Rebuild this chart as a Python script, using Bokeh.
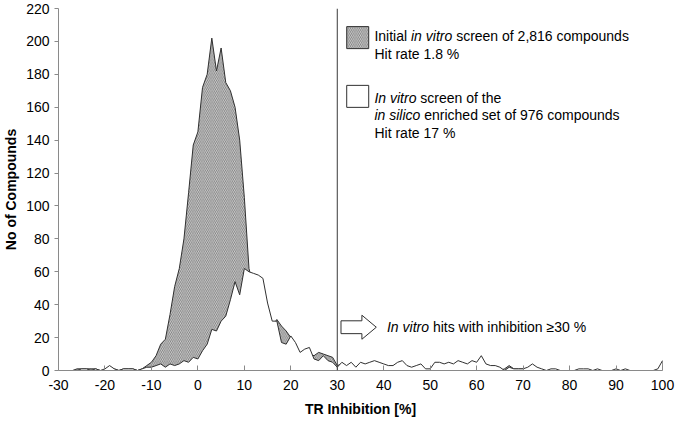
from bokeh.plotting import figure
from bokeh.models import Span, FixedTicker, ColumnDataSource
from bokeh.core.properties import value
from bokeh.embed import file_html
from bokeh.resources import INLINE

# ---------------- data ----------------
tr_inhibition = list(range(-27, 101))

initial_screen = [
    0, 1, 1, 1, 1, 1, 0, 0, 1, 1,          # -27 .. -18
    0, 1, 1, 1, 0, 1, 3, 5, 9, 16,         # -17 .. -8
    19, 34, 51, 62, 80, 108, 137, 145, 172, 180,   # -7 .. 2
    202, 182, 196, 175, 170, 160, 140, 105, 62, 50,  # 3 .. 12
    45, 40, 35, 27, 31, 27, 24, 20, 15, 10,  # 13 .. 22
    12, 10, 9, 11, 10, 9, 8, 3, 4, 2,        # 23 .. 32
    2, 1, 2, 2, 2, 2, 1, 1, 1, 1,            # 33 .. 42
    1, 1, 1, 1, 1, 1, 0, 0, 1, 1,            # 43 .. 52
    1, 1, 1, 1, 1, 1, 1, 1, 1, 1,            # 53 .. 62
    1, 0, 0, 1, 3, 1, 1, 1, 1, 1,            # 63 .. 72
    0, 0, 0, 0, 0, 0, 0, 0, 0, 0,            # 73 .. 82
    0, 0, 0, 0, 0, 0, 0, 0, 0, 0,            # 83 .. 92
    0, 0, 0, 0, 0, 0, 0, 1,                  # 93 .. 100
]

enriched_screen = [
    0, 0, 1, 1, 0, 1, 0, 1, 3, 1,            # -27 .. -18
    0, 1, 1, 1, 0, 1, 2, 2, 3, 4,            # -17 .. -8
    2, 4, 3, 4, 6, 5, 8, 7, 12, 16,          # -7 .. 2
    25, 24, 30, 33, 43, 54, 46, 62, 60, 59,  # 3 .. 12
    58, 56, 41, 30, 30, 17, 16, 21, 17, 11,  # 13 .. 22
    13, 14, 7, 6, 9, 6, 5, 2, 5, 3,          # 23 .. 32
    5, 2, 5, 4, 5, 6, 5, 4, 3, 3,            # 33 .. 42
    5, 6, 3, 2, 3, 4, 1, 1, 5, 5,            # 43 .. 52
    4, 5, 4, 6, 5, 4, 6, 5, 9, 4,            # 53 .. 62
    3, 3, 2, 0, 2, 1, 1, 1, 2, 4,            # 63 .. 72
    2, 1, 0, 1, 1, 0, 0, 0, 0, 1,            # 73 .. 82
    1, 1, 0, 1, 0, 0, 0, 1, 0, 1,            # 83 .. 92
    0, 0, 0, 0, 0, 0, 1, 6,                  # 93 .. 100
]

x_ticks = list(range(-30, 101, 10))
y_ticks = list(range(0, 221, 20))
hit_threshold = 30

# rich-text lines: lists of (words, style); a space is placed between runs
legend_initial = [[("Initial", "normal"), ("in vitro", "italic"), ("screen of 2,816 compounds", "normal")],
                  [("Hit rate 1.8 %", "normal")]]
legend_enriched = [[("In vitro", "italic"), ("screen of the", "normal")],
                   [("in silico", "italic"), ("enriched set of 976 compounds", "normal")],
                   [("Hit rate 17 %", "normal")]]
hits_note = [("In vitro", "italic"), ("hits with inhibition \u226530 %", "normal")]

# ---------------- figure ----------------
FONT = "Liberation Sans"
FS = 14

p = figure(width=676, height=419, x_range=(-30, 100), y_range=(0, 220),
           output_backend="svg", toolbar_location=None,
           min_border_top=8, min_border_right=14, min_border_left=4, min_border_bottom=2)
p.grid.visible = False
p.outline_line_color = None
p.background_fill_color = "white"

src = ColumnDataSource(dict(x=tr_inhibition, a=initial_screen, b=enriched_screen))

HATCH = dict(fill_color="#d4d4d4", hatch_pattern="\\", hatch_color="#4a4a4a",
             hatch_scale=3.6, hatch_weight=0.6)

p.varea(x="x", y1=0, y2="a", source=src, **HATCH)
p.line(x="x", y="a", source=src, line_color="#303030", line_width=1)
p.varea(x="x", y1=0, y2="b", source=src, fill_color="white")
p.line(x="x", y="b", source=src, line_color="#303030", line_width=1)
p.segment(x0=[tr_inhibition[-1]], y0=[0], x1=[tr_inhibition[-1]], y1=[enriched_screen[-1]],
          line_color="#303030", line_width=1)

p.add_layout(Span(location=hit_threshold, dimension="height", line_color="#3a3a3a", line_width=1))

# axes
for ax in (p.xaxis, p.yaxis):
    ax.axis_line_color = "#8a8a8a"
    ax.major_tick_line_color = "#8a8a8a"
    ax.minor_tick_line_color = None
    ax.major_label_text_font = FONT
    ax.major_label_text_font_size = f"{FS}px"
    ax.major_label_text_color = "black"
    ax.axis_label_text_font = FONT
    ax.axis_label_text_font_size = f"{FS}px"
    ax.axis_label_text_font_style = "bold"
    ax.axis_label_text_color = "black"

p.xaxis.ticker = FixedTicker(ticks=x_ticks)
p.yaxis.ticker = FixedTicker(ticks=y_ticks)
p.xaxis.major_label_overrides = {t: str(t) for t in x_ticks}
p.yaxis.major_label_overrides = {t: str(t) for t in y_ticks}
p.xaxis.major_tick_in = 5
p.xaxis.major_tick_out = 0
p.yaxis.major_tick_in = 0
p.yaxis.major_tick_out = 4
p.xaxis.major_label_standoff = 9
p.yaxis.major_label_standoff = 5
p.xaxis.axis_label = "TR Inhibition [%]"
p.yaxis.axis_label = "No of Compounds"
p.xaxis.axis_label_standoff = 8
p.yaxis.axis_label_standoff = 4

# ---------------- rich-text helper ----------------
W = {' ': 278, 'a': 556, 'b': 556, 'c': 500, 'd': 556, 'e': 556, 'f': 278, 'g': 556, 'h': 556,
     'i': 222, 'j': 222, 'k': 500, 'l': 222, 'm': 833, 'n': 556, 'o': 556, 'p': 556, 'q': 556,
     'r': 333, 's': 500, 't': 278, 'u': 556, 'v': 500, 'w': 722, 'x': 500, 'y': 500, 'z': 500,
     'I': 278, 'H': 722, ',': 278, '.': 278, '%': 889, '\u2265': 549}


def tw(s):
    return sum(W.get(ch, 556) for ch in s) * FS / 1000.0


def rich(x, y, runs):
    off = 0.0
    for txt, style in runs:
        p.text(x=[x], y=[y], text=[txt], x_offset=off, text_font=value(FONT),
               text_font_size=f"{FS}px", text_font_style=style, text_color="black",
               text_baseline="middle", text_align="left")
        off += tw(txt) + tw(" ")


# legend: hatched box + white box
p.rect(x=[34.4], y=[202.3], width=22, height=22, width_units="screen", height_units="screen",
       line_color="#303030", line_width=1, **HATCH)
p.rect(x=[34.4], y=[166.6], width=22, height=22, width_units="screen", height_units="screen",
       line_color="#303030", line_width=1, fill_color="white")

for i, runs in enumerate(legend_initial):
    rich(38.0, 203.0 - i * 10.4, runs)
for i, runs in enumerate(legend_enriched):
    rich(38.0, 165.6 - i * 10.6, runs)

# block arrow pointing to hits region
ax0, ay = hit_threshold + 0.8, 26.3
shaft, head, sh, hh = 4.5, 3.1, 3.9, 7.3
p.patch(x=[ax0, ax0 + shaft, ax0 + shaft, ax0 + shaft + head, ax0 + shaft, ax0 + shaft, ax0],
        y=[ay - sh, ay - sh, ay - hh, ay, ay + hh, ay + sh, ay + sh],
        fill_color="white", line_color="#303030", line_width=1)
rich(40.7, ay, hits_note)

open("out.html", "w").write(file_html(p, INLINE))
